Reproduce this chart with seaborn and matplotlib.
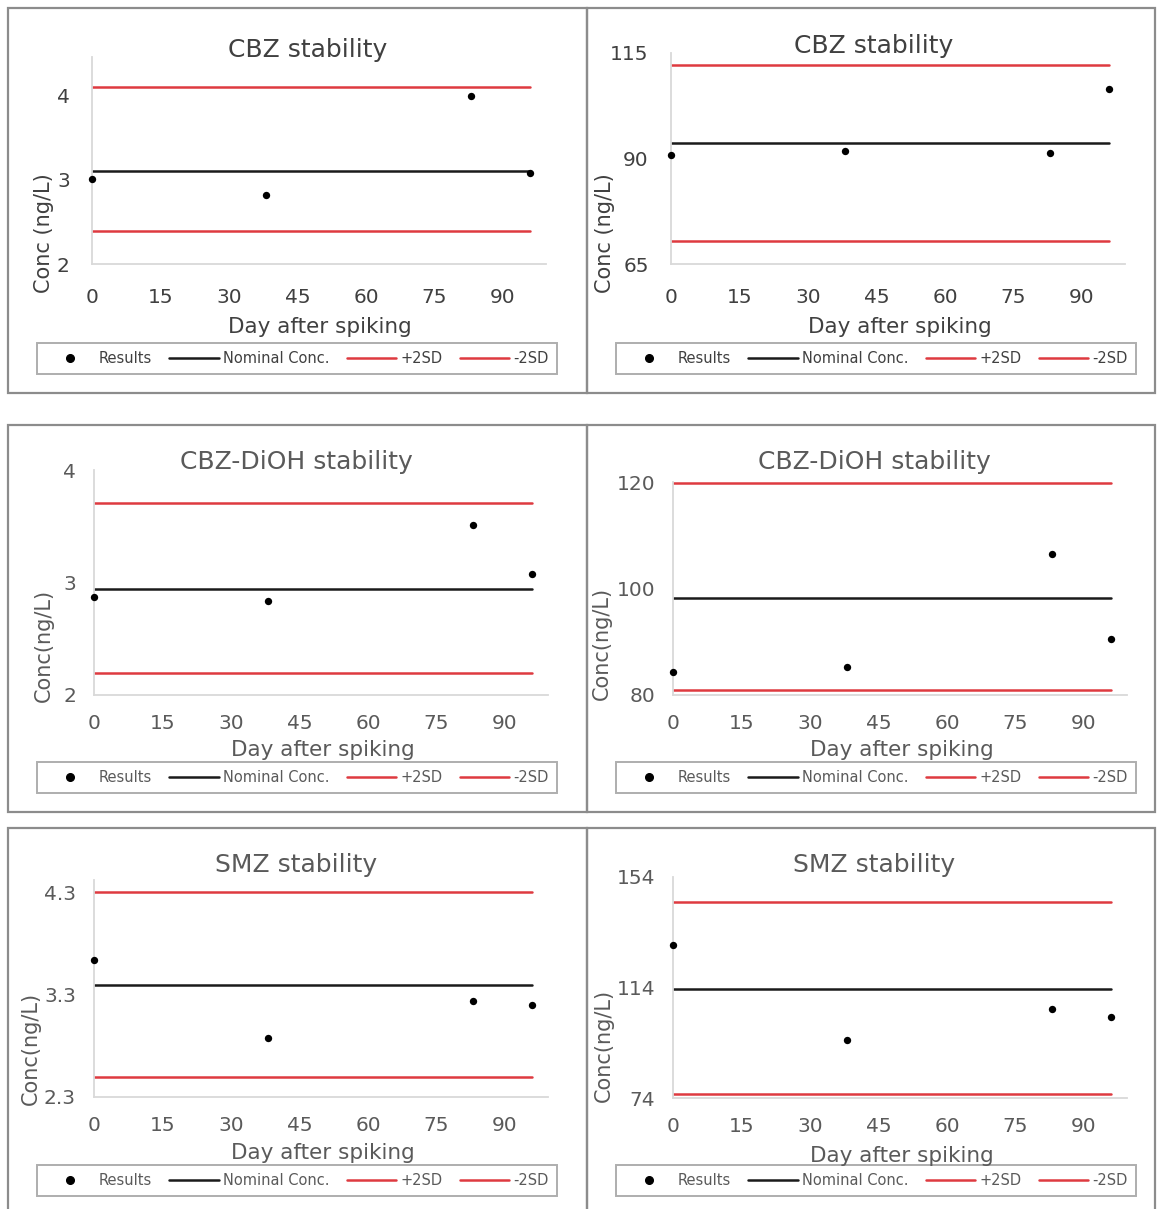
"""Stability check charts: CBZ, CBZ-DiOH and SMZ at two spiking levels"""
import matplotlib

matplotlib.use("Agg")
from matplotlib import pyplot as plt
from matplotlib.lines import Line2D
from matplotlib.patches import Rectangle
import seaborn as sns

# ---- data ----
days = [0, 38, 83, 96]
titles = [
    "CBZ stability", "CBZ stability",
    "CBZ-DiOH stability", "CBZ-DiOH stability",
    "SMZ stability", "SMZ stability",
]
results = [
    [3.01, 2.82, 3.99, 3.08],
    [90.8, 91.8, 91.3, 106.5],
    [2.87, 2.84, 3.51, 3.08],
    [84.3, 85.3, 106.5, 90.5],
    [3.64, 2.88, 3.24, 3.20],
    [129.3, 94.9, 106.1, 103.3],
]
nominal = [3.10, 93.7, 2.94, 98.2, 3.39, 113.6]
plus_2sd = [4.09, 112.2, 3.71, 119.8, 4.30, 145.0]
minus_2sd = [2.39, 70.5, 2.20, 80.9, 2.50, 75.4]
y_limits = [(2, 4.45), (65, 115), (2, 4), (80, 120), (2.3, 4.42), (74, 154)]
y_ticks = [[2, 3, 4], [65, 90, 115], [2, 3, 4], [80, 100, 120],
           [2.3, 3.3, 4.3], [74, 114, 154]]
x_ticks = [0, 15, 30, 45, 60, 75, 90]
y_labels = ["Conc (ng/L)", "Conc (ng/L)", "Conc(ng/L)", "Conc(ng/L)",
            "Conc(ng/L)", "Conc(ng/L)"]
legend_labels = ["Results", "Nominal Conc.", "+2SD", "-2SD"]

# ---- layout (pixels of a 1157 x 1209 canvas) ----
W, H = 1157, 1209
axes_px = [(92, 264, 57), (671, 264, 53), (94, 695, 470),
           (673, 695, 482), (94, 1097, 880), (673, 1098, 877)]
title_px = [(308, 50), (874, 46), (296, 462), (874, 462), (296, 865), (874, 865)]
xlabel_px = [(320, 327), (900, 327), (323, 750), (902, 750), (323, 1153), (902, 1156)]
ylabel_px = [(44, 233), (605, 233), (44, 645), (602, 643), (31, 1048), (604, 1045)]
legend_px = [(37, 340, 557, 377), (616, 340, 1136, 377), (37, 760, 557, 795),
             (616, 760, 1136, 795), (37, 1163, 557, 1198), (616, 1163, 1136, 1198)]
frames_px = [(8, 8, 587, 393), (587, 8, 1155, 393), (8, 425, 587, 812),
             (587, 425, 1155, 812), (8, 828, 587, 1215), (587, 828, 1155, 1215)]
X_MAX = 99.5
PX_PER_DAY = 411 / 90

RED = "#de3a40"
sns.set_theme(style="white")
plt.rcParams["font.family"] = ["DejaVu Sans"]

fig = plt.figure(figsize=(W / 100, H / 100), dpi=100)


def fx(x):
    return x / W


def fy(y):
    return 1 - y / H


for x0, y0, x1, y1 in frames_px:
    fig.patches.append(Rectangle((fx(x0), fy(y1)), fx(x1) - fx(x0), fy(y0) - fy(y1),
                                 transform=fig.transFigure, fill=False,
                                 edgecolor="#8c8c8c", linewidth=1.6))

for i in range(6):
    text_color = "#404040" if i < 2 else "#5a5a5a"
    left, bottom, top = axes_px[i]
    right = left + X_MAX * PX_PER_DAY
    ax = fig.add_axes([fx(left), fy(bottom), fx(right) - fx(left), fy(top) - fy(bottom)])
    ax.set_facecolor("none")

    span = [days[0], days[-1]]
    sns.lineplot(x=span, y=[nominal[i]] * 2, color="#1a1a1a", linewidth=1.8, ax=ax)
    sns.lineplot(x=span, y=[plus_2sd[i]] * 2, color=RED, linewidth=1.8, ax=ax)
    sns.lineplot(x=span, y=[minus_2sd[i]] * 2, color=RED, linewidth=1.8, ax=ax)
    sns.scatterplot(x=days, y=results[i], color="black", s=28, edgecolor="black",
                    linewidth=0, zorder=5, clip_on=False, ax=ax)

    ax.set_xlim(0, X_MAX)
    ax.set_ylim(*y_limits[i])
    ax.set_xticks(x_ticks)
    ax.set_yticks(y_ticks[i])
    ax.set_xticklabels([str(t) for t in x_ticks])
    ax.set_yticklabels([f"{t:g}" for t in y_ticks[i]])
    ax.tick_params(axis="both", length=0, labelsize=14.5, labelcolor=text_color)
    ax.tick_params(axis="x", pad=17 if i < 2 else 14)
    ax.tick_params(axis="y", pad=16 if i < 2 else 13)
    for side in ("top", "right"):
        ax.spines[side].set_visible(False)
    for side in ("left", "bottom"):
        ax.spines[side].set_color("#d9d9d9")
        ax.spines[side].set_linewidth(1.3)
    ax.set_xlabel("")
    ax.set_ylabel("")

    tx, ty = title_px[i]
    fig.text(fx(tx), fy(ty), titles[i], ha="center", va="center",
             fontsize=18, color=text_color)
    lx, ly = xlabel_px[i]
    fig.text(fx(lx), fy(ly), "Day after spiking", ha="center", va="center",
             fontsize=15.5, color=text_color)
    yx, yy = ylabel_px[i]
    fig.text(fx(yx), fy(yy), y_labels[i], ha="center", va="center", rotation=90,
             fontsize=15, color=text_color)

    handles = [
        Line2D([], [], linestyle="none", marker="o", markersize=5.5, color="black"),
        Line2D([], [], color="#1a1a1a", linewidth=1.8),
        Line2D([], [], color=RED, linewidth=1.8),
        Line2D([], [], color=RED, linewidth=1.8),
    ]
    gx0, gy0, gx1, gy1 = legend_px[i]
    leg = ax.legend(handles, legend_labels, loc="center", ncol=4, mode="expand",
                    bbox_to_anchor=(fx(gx0), fy(gy1), fx(gx1) - fx(gx0), fy(gy0) - fy(gy1)),
                    bbox_transform=fig.transFigure, frameon=True, fancybox=False,
                    edgecolor="#9a9a9a", fontsize=10.5, handlelength=3.4,
                    handletextpad=0.3, columnspacing=0.3, borderaxespad=0,
                    borderpad=0.55)
    leg.get_frame().set_linewidth(1.4)
    for t in leg.get_texts():
        t.set_color(text_color)

fig.savefig("out.png", dpi=100, facecolor="white")
